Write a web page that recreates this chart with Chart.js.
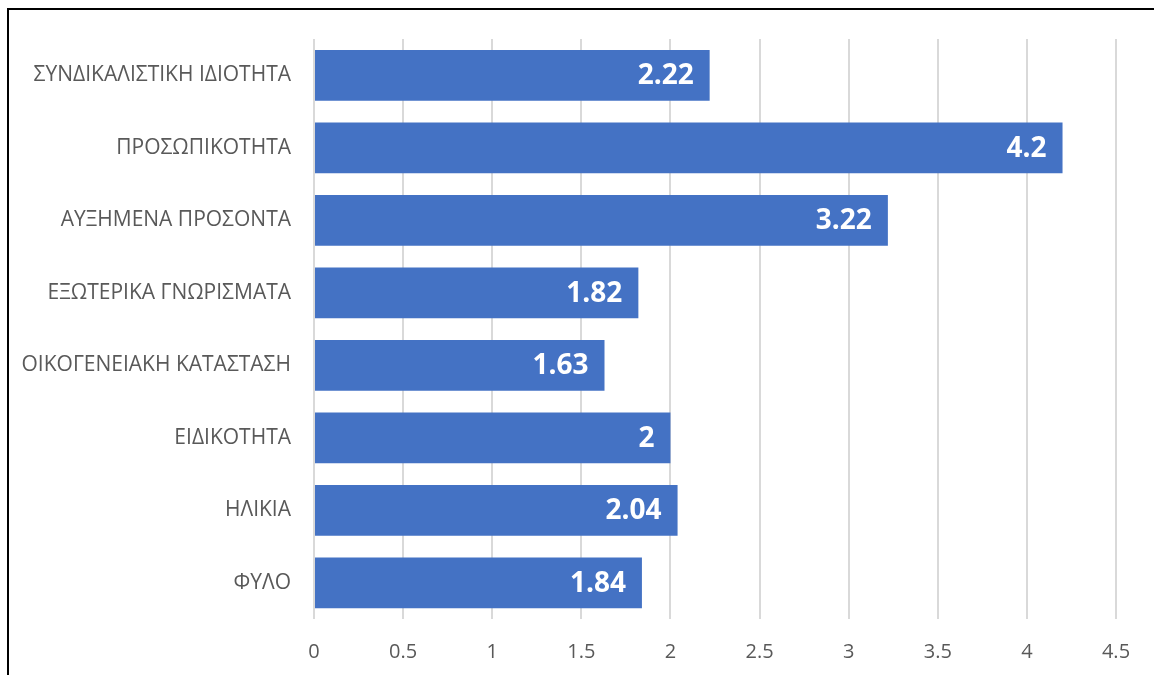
<!DOCTYPE html>
<html>
<head>
<meta charset="utf-8">
<script src="https://cdn.jsdelivr.net/npm/chart.js@4"></script>
<style>
  html, body { margin: 0; padding: 0; background: #ffffff; }
  #wrap { position: relative; width: 1154px; height: 675px; overflow: hidden; }
  #frame { position: absolute; left: 7px; top: 8px; width: 1160px; height: 700px;
           border-top: 2px solid #000; border-left: 2px solid #000; box-sizing: border-box; }
  canvas { position: absolute; left: 0; top: 0; }
</style>
</head>
<body>
<div id="wrap">
  <div id="frame"></div>
  <canvas id="chart" width="1154" height="675"></canvas>
</div>
<script>
const categories = [
  'ΣΥΝΔΙΚΑΛΙΣΤΙΚΗ ΙΔΙΟΤΗΤΑ',
  'ΠΡΟΣΩΠΙΚΟΤΗΤΑ',
  'ΑΥΞΗΜΕΝΑ ΠΡΟΣΟΝΤΑ',
  'ΕΞΩΤΕΡΙΚΑ ΓΝΩΡΙΣΜΑΤΑ',
  'ΟΙΚΟΓΕΝΕΙΑΚΗ ΚΑΤΑΣΤΑΣΗ',
  'ΕΙΔΙΚΟΤΗΤΑ',
  'ΗΛΙΚΙΑ',
  'ΦΥΛΟ'
];
const values = [2.22, 4.2, 3.22, 1.82, 1.63, 2, 2.04, 1.84];
const xTicks = [0, 0.5, 1, 1.5, 2, 2.5, 3, 3.5, 4, 4.5];

// Value labels drawn inside the end of each bar
const barValueLabels = {
  id: 'barValueLabels',
  afterDatasetsDraw(chart) {
    const ctx = chart.ctx;
    const meta = chart.getDatasetMeta(0);
    ctx.save();
    ctx.font = 'bold 28px "Open Sans", sans-serif';
    ctx.fillStyle = '#ffffff';
    ctx.textAlign = 'right';
    ctx.textBaseline = 'middle';
    meta.data.forEach((bar, i) => {
      ctx.fillText(String(values[i]), bar.x - 16, bar.y + 1);
    });
    ctx.restore();
  }
};

new Chart(document.getElementById('chart'), {
  type: 'bar',
  data: {
    labels: categories,
    datasets: [{
      data: values,
      backgroundColor: '#4472C4',
      borderWidth: 0,
      barPercentage: 0.7,
      categoryPercentage: 1.0
    }]
  },
  options: {
    indexAxis: 'y',
    responsive: false,
    animation: false,
    layout: { padding: { left: 0, right: 38, top: 39, bottom: 0 } },
    plugins: { legend: { display: false }, tooltip: { enabled: false } },
    scales: {
      x: {
        min: 0,
        max: 4.5,
        afterBuildTicks(axis) { axis.ticks = xTicks.map(v => ({ value: v })); },
        afterFit(axis) { axis.height = 56; },
        grid: { color: '#D9D9D9', lineWidth: 2, drawTicks: false },
        border: { display: false },
        ticks: {
          padding: 21,
          color: '#595959',
          font: { family: '"Open Sans", sans-serif', size: 20 },
          callback: (v) => String(v)
        }
      },
      y: {
        afterFit(axis) { axis.width = 314; },
        grid: { display: false, drawTicks: false },
        border: { display: false },
        ticks: {
          padding: 23,
          color: '#595959',
          font: { family: '"Open Sans", sans-serif', size: 21 }
        }
      }
    }
  },
  plugins: [barValueLabels]
});
</script>
</body>
</html>
